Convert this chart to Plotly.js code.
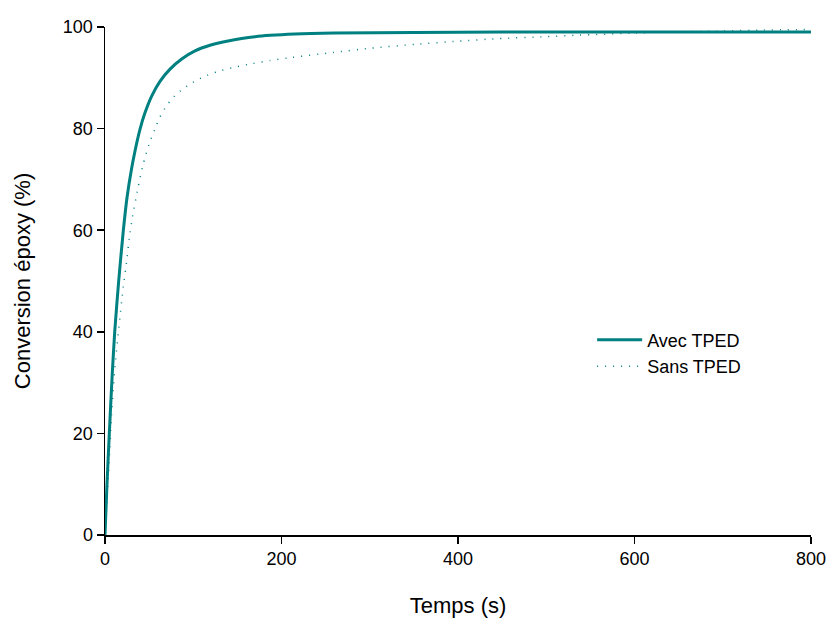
<!DOCTYPE html>
<html>
<head>
<meta charset="utf-8">
<script src="https://cdn.plot.ly/plotly-3.0.1.min.js"></script>
<style>html,body{margin:0;padding:0;background:#fff;}#chart{width:830px;height:619px;}</style>
</head>
<body>
<div id="chart"></div>
<script>
const seriesNames = ["Avec TPED", "Sans TPED"];
const timeAvec = [0, 2, 4.9, 8, 11, 15.5, 20.8, 25, 30, 34, 39.7, 45.3, 52.9, 62.3, 73.7, 86.9, 102, 119, 138, 170, 215, 260, 350, 450, 550, 650, 800];
const convAvec = [0, 9, 20, 31, 40, 50, 60, 66.5, 72, 75.6, 79.9, 83.1, 86.4, 89.3, 91.7, 93.7, 95.3, 96.4, 97.2, 98.1, 98.6, 98.8, 98.9, 99, 99, 99, 99];
const timeSans = [0, 4.5, 6.8, 9.4, 12, 15.5, 20.8, 24.6, 27.6, 31, 37, 43, 50, 58, 62, 69, 76, 86, 96, 106, 116, 127, 147, 167, 187, 207, 259, 300, 352, 400, 444, 500, 536, 600, 629, 700, 745, 800];
const convSans = [0, 14, 21.5, 29, 34.5, 40.5, 49, 54, 58.5, 62.5, 68, 72.8, 77, 80.5, 82.2, 84.3, 85.9, 87.5, 88.7, 89.7, 90.5, 91.2, 92.1, 92.8, 93.4, 93.9, 95, 95.8, 96.6, 97.2, 97.7, 98.1, 98.4, 98.8, 99, 99.2, 99.4, 99.5];
const xTicks = [0, 200, 400, 600, 800];
const yTicks = [0, 20, 40, 60, 80, 100];

const teal = "#008080";
const fontFam = "Liberation Sans, Arial, sans-serif";

const traces = [
  {x: timeAvec, y: convAvec, name: seriesNames[0], mode: "lines",
   line: {color: teal, width: 3, shape: "spline", smoothing: 0.6}},
  {x: timeSans, y: convSans, name: seriesNames[1], mode: "lines",
   line: {color: teal, width: 1.5, dash: "1px,7px", shape: "spline", smoothing: 0.6}}
];

const layout = {
  width: 830, height: 619,
  margin: {l: 105, r: 19, t: 26.5, b: 84},
  paper_bgcolor: "#fff", plot_bgcolor: "#fff",
  font: {family: fontFam, size: 18, color: "#000"},
  showlegend: true,
  legend: {x: 0.69, y: 0.42, xanchor: "left", yanchor: "top", bgcolor: "rgba(0,0,0,0)",
           font: {family: fontFam, size: 18, color: "#000"}, itemwidth: 45},
  xaxis: {range: [0, 800], tickvals: xTicks, ticktext: xTicks.map(String),
          showgrid: false, zeroline: false, showline: true, linecolor: "#000", linewidth: 1.5,
          ticks: "outside", ticklen: 7, tickwidth: 1.5, tickcolor: "#000",
          tickfont: {family: fontFam, size: 18, color: "#000"},
          title: {text: "Temps (s)", font: {family: fontFam, size: 22, color: "#000"}, standoff: 29}},
  yaxis: {range: [0, 100], tickvals: yTicks, ticktext: yTicks.map(String),
          showgrid: false, zeroline: false, showline: true, linecolor: "#000", linewidth: 1.5,
          ticks: "outside", ticklen: 7, tickwidth: 1.5, tickcolor: "#000",
          tickfont: {family: fontFam, size: 18, color: "#000"},
          title: {text: "Conversion époxy (%)", font: {family: fontFam, size: 22, color: "#000"}, standoff: 26}}
};

Plotly.newPlot("chart", traces, layout, {displayModeBar: false, staticPlot: true});
</script>
</body>
</html>
